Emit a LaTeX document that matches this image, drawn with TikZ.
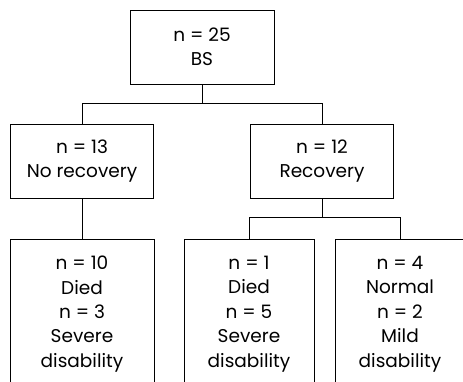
\documentclass[tikz,border=0pt]{standalone}
\usepackage{fontspec}
\setmainfont{Poppins}
\usetikzlibrary{positioning}
\tikzset{
  outcome/.style={draw, rectangle, line width=1pt, align=center, inner sep=0pt,
    font=\fontsize{18.5}{24.4}\selectfont},
  link/.style={line width=1pt}
}
\begin{document}
\begin{tikzpicture}[x=1pt, y=-1pt]
		\clip (0,0) rectangle (463,381);
		\useasboundingbox (0,0) rectangle (463,381);
		% Nodes
		\node[outcome, minimum width=144pt, minimum height=74pt] (bs) at (202,47) {n = 25\\BS};
		\node[outcome, minimum width=143pt, minimum height=74pt] (norec) at (82,161) {n = 13\\No recovery};
		\node[outcome, minimum width=143pt, minimum height=74pt] (rec) at (322,161) {n = 12\\Recovery};
		\node[outcome, minimum width=144pt, minimum height=150pt] (died) at (82,314) {n = 10\\Died\\n = 3\\Severe\\disability};
		\node[outcome, minimum width=130pt, minimum height=150pt] (diedrec) at (249,314) {n = 1\\Died\\n = 5\\Severe\\disability};
		\node[outcome, minimum width=130pt, minimum height=150pt] (normal) at (400,314) {n = 4\\Normal\\n = 2\\Mild\\disability};
		
		% Edges
		\draw[link] (bs.south) -- ++(0,19) -| (norec.north);
		\draw[link] (bs.south) -- ++(0,19) -| (rec.north);
		\draw[link] (norec.south) -- (died.north);
		\draw[link] (rec.south) -- ++(0,19) -| (diedrec.north);
		\draw[link] (rec.south) -- ++(0,19) -| (normal.north);
	\end{tikzpicture}
\end{document}
